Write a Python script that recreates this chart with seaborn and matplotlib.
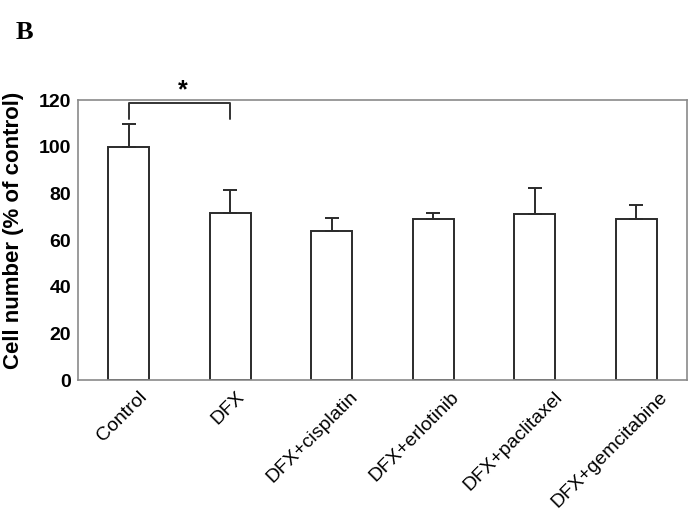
import numpy as np
import matplotlib
matplotlib.use("Agg")
import matplotlib.pyplot as plt
import matplotlib.transforms as mtransforms
import seaborn as sns

# data
groups = ["Control", "DFX", "DFX+cisplatin", "DFX+erlotinib",
          "DFX+paclitaxel", "DFX+gemcitabine"]
means = [100.0, 71.4, 64.0, 68.9, 71.3, 68.9]
sds   = [9.7, 10.0, 5.4, 2.8, 11.0, 6.1]
yticks = [0, 20, 40, 60, 80, 100, 120]

sns.set_style("white")
plt.rcParams["font.family"] = ["Liberation Sans", "DejaVu Sans"]
plt.rcParams["text.color"] = "black"
plt.rcParams["axes.labelcolor"] = "black"
plt.rcParams["xtick.labelcolor"] = "black"
plt.rcParams["ytick.labelcolor"] = "black"

fig = plt.figure(figsize=(6.88, 5.19), dpi=100)
ax = fig.add_axes([0.1134, 0.2678, 0.8851, 0.5395])

sns.barplot(x=groups, y=means, color="white", edgecolor="#2b2b2b",
            linewidth=1.4, width=0.4, errorbar=None, ax=ax)
ax.errorbar(np.arange(len(groups)), means, yerr=[np.zeros(len(sds)), sds],
            fmt="none", ecolor="#2b2b2b", elinewidth=1.4, capsize=5, capthick=1.4)

# significance bracket Control vs DFX
ax.plot([0, 0, 1, 1], [112, 118.6, 118.6, 112], color="#333333", lw=1.4,
        clip_on=False)
ax.text(0.53, 119.0, "*", ha="center", va="bottom", fontsize=18,
        fontweight="bold")

ax.set_xlim(-0.5, len(groups) - 0.5)
ax.set_ylim(0, 120)
ax.set_yticks(yticks)
ax.set_yticklabels([str(t) for t in yticks], fontsize=14, fontweight="bold")
ax.tick_params(axis="y", direction="in", length=5, color="#d0d0d0", pad=5)

ax.set_xticks(np.arange(len(groups)))
ax.set_xticklabels(groups, rotation=45, ha="right", rotation_mode="anchor",
                   fontsize=14)
ax.tick_params(axis="x", length=0, pad=6)
ax.set_xticks(np.arange(0.5, len(groups) - 0.5, 1), minor=True)
ax.tick_params(axis="x", which="minor", direction="in", length=5,
               color="#d0d0d0")

ax.set_xlabel("")
ax.set_ylabel("Cell number (% of control)", fontsize=16, fontweight="bold")
ax.yaxis.set_label_coords(-0.088, 0.535)
for s in ax.spines.values():
    s.set_color("#8a8a8a")
    s.set_linewidth(1.2)

fig.text(0.022, 0.925, "B", fontsize=19, fontweight="bold",
         family=["Liberation Serif", "DejaVu Serif"])

# labels sit a little right of their tick, more so for long ones
fig.canvas.draw()
for lab in ax.get_xticklabels():
    w = lab.get_window_extent().width
    off = mtransforms.ScaledTranslation((0.2 * w - 2) / fig.dpi, 0,
                                        fig.dpi_scale_trans)
    lab.set_transform(lab.get_transform() + off)

fig.savefig("out.png", dpi=100)
